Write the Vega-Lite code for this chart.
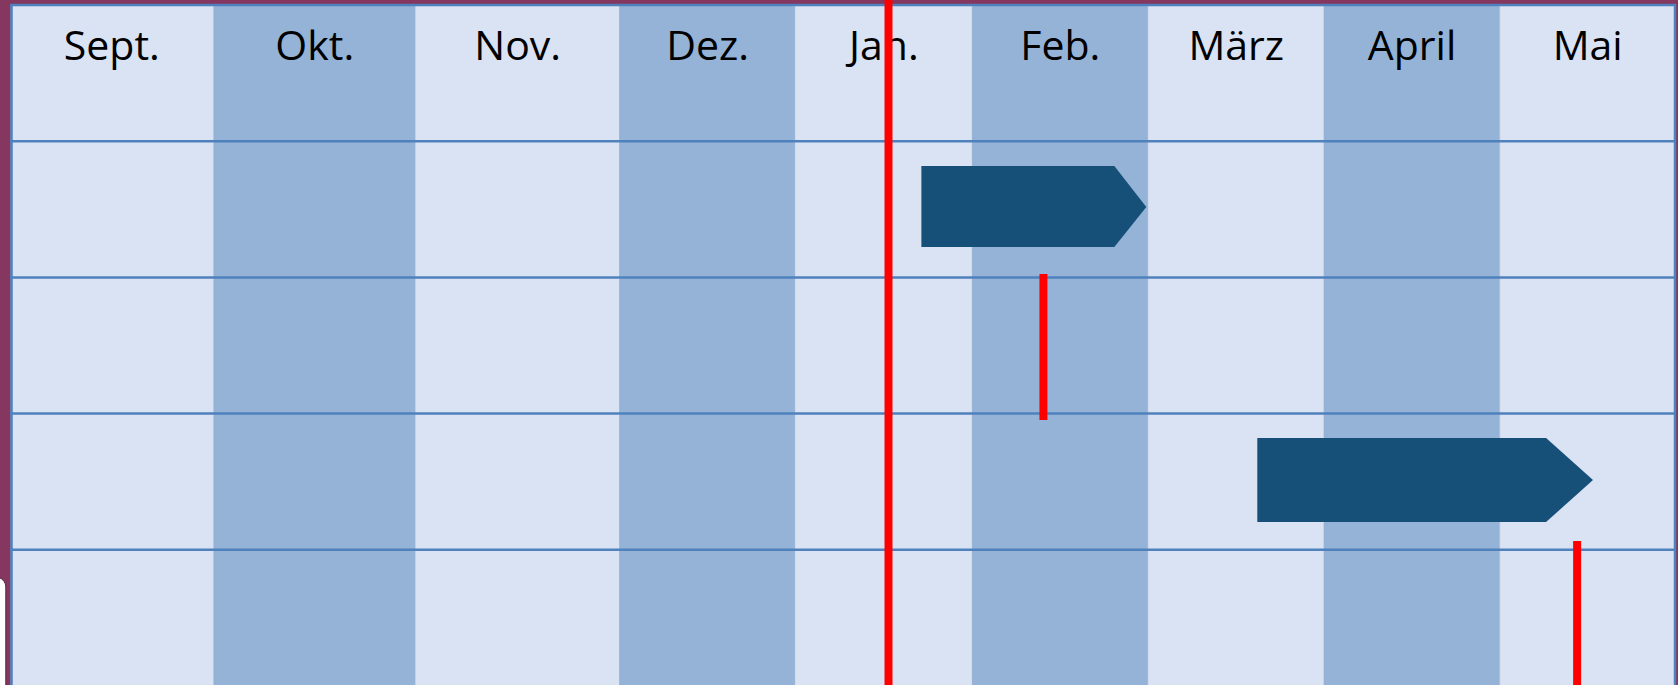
{
  "$schema": "https://vega.github.io/schema/vega-lite/v6.json",
  "width": 1678,
  "height": 685,
  "autosize": {"type": "fit", "contains": "padding"},
  "padding": 0,
  "background": "#86375F",
  "config": {"view": {"stroke": null}},
  "datasets": {
    "monate": [
      {"monat": "Sept.", "von": -0.01, "bis": 1.088, "mitte": 0.535, "ton": "hell"},
      {"monat": "Okt.", "von": 1.088, "bis": 2.181, "mitte": 1.634, "ton": "dunkel"},
      {"monat": "Nov.", "von": 2.181, "bis": 3.285, "mitte": 2.733, "ton": "hell"},
      {"monat": "Dez.", "von": 3.285, "bis": 4.237, "mitte": 3.761, "ton": "dunkel"},
      {"monat": "Jan.", "von": 4.237, "bis": 5.195, "mitte": 4.716, "ton": "hell"},
      {"monat": "Feb.", "von": 5.195, "bis": 6.148, "mitte": 5.671, "ton": "dunkel"},
      {"monat": "März", "von": 6.148, "bis": 7.1, "mitte": 6.624, "ton": "hell"},
      {"monat": "April", "von": 7.1, "bis": 8.053, "mitte": 7.576, "ton": "dunkel"},
      {"monat": "Mai", "von": 8.053, "bis": 9.0, "mitte": 8.527, "ton": "hell"}
    ],
    "zeilen": [{"r": 0}, {"r": 1}, {"r": 2}, {"r": 3}, {"r": 4}],
    "raender": [{"u": -0.008}, {"u": 9.0}],
    "balken": [
      {"id": "A", "u": 4.919, "oben": 1.182, "unten": 1.777},
      {"id": "A", "u": 5.964, "oben": 1.182, "unten": 1.777},
      {"id": "A", "u": 6.137, "oben": 1.483, "unten": 1.483},
      {"id": "B", "u": 6.738, "oben": 3.179, "unten": 3.796},
      {"id": "B", "u": 8.302, "oben": 3.179, "unten": 3.796},
      {"id": "B", "u": 8.556, "oben": 3.488, "unten": 3.488}
    ],
    "linien": [
      {"u": 4.741, "von": -0.1, "bis": 5.2},
      {"u": 5.58, "von": 1.975, "bis": 3.047},
      {"u": 8.47, "von": 3.935, "bis": 5.2}
    ],
    "karte": [{"von": -0.3, "bis": -0.039, "oben": 4.2, "unten": 5.6}]
  },
  "layer": [
    {
      "data": {"name": "karte"},
      "mark": {"type": "rect", "fill": "#FFFFFF", "cornerRadius": 10, "clip": true, "stroke": "#5a2340", "strokeWidth": 1},
      "encoding": {
        "x": {"field": "von", "type": "quantitative", "scale": {"domain": [-0.0704, 9.0108], "nice": false, "zero": false}, "axis": null},
        "x2": {"field": "bis"},
        "y": {"field": "oben", "type": "quantitative", "scale": {"domain": [-0.0367, 4.993], "nice": false, "zero": false, "reverse": true}, "axis": null},
        "y2": {"field": "unten"}
      }
    },
    {
      "data": {"name": "monate"},
      "mark": {"type": "rect", "clip": true, "strokeWidth": 0.8},
      "encoding": {
        "x": {"field": "von", "type": "quantitative"},
        "x2": {"field": "bis"},
        "y": {"datum": 0},
        "y2": {"datum": 5.2},
        "fill": {"field": "ton", "type": "nominal", "scale": {"domain": ["hell", "dunkel"], "range": ["#DAE3F3", "#95B3D7"]}, "legend": null},
        "stroke": {"field": "ton", "type": "nominal", "scale": {"domain": ["hell", "dunkel"], "range": ["#DAE3F3", "#95B3D7"]}, "legend": null}
      }
    },
    {
      "data": {"name": "zeilen"},
      "mark": {"type": "rule", "color": "#4F81BD", "strokeWidth": 2.5},
      "encoding": {
        "y": {"field": "r", "type": "quantitative"},
        "x": {"datum": -0.015},
        "x2": {"datum": 9.005}
      }
    },
    {
      "data": {"name": "raender"},
      "mark": {"type": "rule", "color": "#4F81BD", "strokeWidth": 2.5, "clip": true},
      "encoding": {
        "x": {"field": "u", "type": "quantitative"},
        "y": {"datum": -0.005},
        "y2": {"datum": 5.2}
      }
    },
    {
      "data": {"name": "monate"},
      "mark": {"type": "text", "font": "Open Sans", "fontSize": 41, "color": "#000000", "baseline": "alphabetic", "align": "center"},
      "encoding": {
        "x": {"field": "mitte", "type": "quantitative"},
        "y": {"datum": 0.404},
        "text": {"field": "monat"}
      }
    },
    {
      "data": {"name": "balken"},
      "mark": {"type": "area", "color": "#165079", "opacity": 1},
      "encoding": {
        "x": {"field": "u", "type": "quantitative"},
        "y": {"field": "oben", "type": "quantitative"},
        "y2": {"field": "unten"},
        "detail": {"field": "id", "type": "nominal"}
      }
    },
    {
      "data": {"name": "linien"},
      "mark": {"type": "rule", "color": "#FF0000", "strokeWidth": 8, "clip": true},
      "encoding": {
        "x": {"field": "u", "type": "quantitative"},
        "y": {"field": "von", "type": "quantitative"},
        "y2": {"field": "bis"}
      }
    }
  ]
}
